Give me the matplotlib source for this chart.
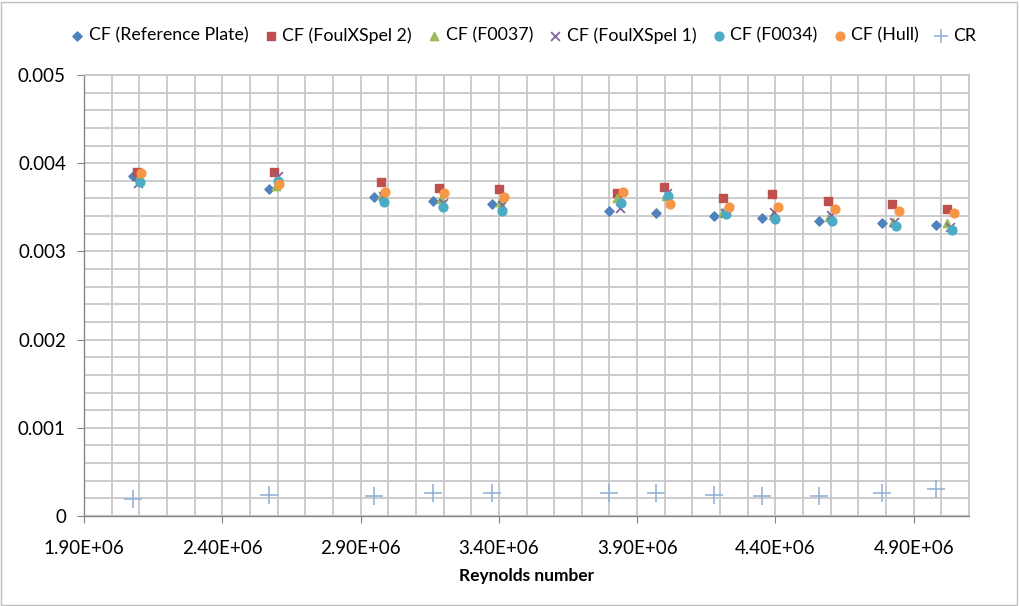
import numpy as np
import matplotlib.pyplot as plt
from matplotlib.ticker import MultipleLocator, FixedLocator, FuncFormatter
from matplotlib.patches import Rectangle

plt.rcParams['font.family'] = ['Lato', 'DejaVu Sans']

# Reynolds numbers for each series
re_plate = [2.077e6, 2.569e6, 2.948e6, 3.162e6, 3.375e6, 3.798e6, 3.968e6, 4.178e6, 4.351e6, 4.557e6, 4.785e6, 4.980e6]
re_foul2 = [2.092e6, 2.587e6, 2.974e6, 3.183e6, 3.400e6, 3.827e6, 3.997e6, 4.210e6, 4.387e6, 4.590e6, 4.821e6, 5.020e6]
re_f0037 = [2.100e6, 2.595e6, 2.978e6, 3.190e6, 3.405e6, 3.827e6, 4.004e6, 4.210e6, 4.390e6, 4.593e6, 4.825e6, 5.020e6]
re_foul1 = [2.097e6, 2.600e6, 2.980e6, 3.197e6, 3.410e6, 3.837e6, 4.008e6, 4.217e6, 4.393e6, 4.600e6, 4.830e6, 5.030e6]
re_f0034 = [2.104e6, 2.600e6, 2.985e6, 3.197e6, 3.410e6, 3.840e6, 4.011e6, 4.221e6, 4.400e6, 4.604e6, 4.835e6, 5.038e6]
re_hull = [2.108e6, 2.605e6, 2.988e6, 3.200e6, 3.418e6, 3.848e6, 4.018e6, 4.232e6, 4.409e6, 4.615e6, 4.846e6, 5.045e6]

# friction / residual coefficients
cf_plate = [0.003855, 0.00371, 0.00362, 0.00357, 0.00354, 0.00346, 0.00344, 0.00340, 0.00338, 0.00334, 0.00332, 0.00330]
cf_foul2 = [0.00390, 0.00390, 0.00379, 0.00372, 0.00371, 0.00366, 0.00373, 0.00360, 0.00365, 0.00357, 0.00354, 0.00348]
cf_f0037 = [0.00384, 0.00374, 0.00365, 0.00359, 0.00356, 0.00360, 0.00363, 0.00345, 0.00341, 0.00339, 0.00333, 0.00332]
cf_foul1 = [0.00378, 0.00385, 0.00363, 0.00355, 0.00353, 0.00349, 0.00366, 0.00344, 0.00345, 0.00341, 0.00333, 0.00328]
cf_f0034 = [0.00379, 0.00380, 0.00356, 0.00350, 0.00346, 0.00355, 0.00363, 0.00342, 0.00337, 0.00334, 0.00329, 0.00324]
cf_hull = [0.00389, 0.00376, 0.00367, 0.00366, 0.00362, 0.00367, 0.00354, 0.00350, 0.00350, 0.00348, 0.00346, 0.00344]
cr = [0.00019, 0.00024, 0.00023, 0.00026, 0.00026, 0.00026, 0.00026, 0.00024, 0.00023, 0.00023, 0.00026, 0.00031]

x_ticks = [1.9e6, 2.4e6, 2.9e6, 3.4e6, 3.9e6, 4.4e6, 4.9e6]

fig = plt.figure(figsize=(10.19, 6.06), dpi=100)
ax = fig.add_axes([0.0824, 0.1485, 0.8686, 0.7277])

ax.scatter(re_plate, cf_plate, marker='D', s=22, color='#4F81BD', label='CF (Reference Plate)', zorder=3)
ax.scatter(re_foul2, cf_foul2, marker='s', s=40, color='#C0504D', label='CF (FoulXSpel 2)', zorder=3)
ax.scatter(re_f0037, cf_f0037, marker='^', s=36, color='#9BBB59', label='CF (F0037)', zorder=3)
ax.scatter(re_foul1, cf_foul1, marker='x', s=40, color='#8064A2', linewidths=1.3, label='CF (FoulXSpel 1)', zorder=3)
ax.scatter(re_f0034, cf_f0034, marker='o', s=40, color='#4BACC6', label='CF (F0034)', zorder=3)
ax.scatter(re_hull, cf_hull, marker='o', s=40, color='#F79646', label='CF (Hull)', zorder=3)
ax.scatter(re_plate, cr, marker='+', s=150, color='#95B3D7', linewidths=1.2, label='CR', zorder=3)

ax.set_xlim(1.9e6, 5.1e6)
ax.set_ylim(0, 0.005)
ax.xaxis.set_major_locator(FixedLocator(x_ticks))
ax.xaxis.set_minor_locator(MultipleLocator(0.1e6))
ax.yaxis.set_major_locator(MultipleLocator(0.001))
ax.yaxis.set_minor_locator(MultipleLocator(0.0002))
ax.xaxis.set_major_formatter(FuncFormatter(lambda v, p: f'{v:.2E}'))
ax.yaxis.set_major_formatter(FuncFormatter(lambda v, p: '0' if v == 0 else f'{v:.3f}'))

ax.grid(True, which='both', color='#C8C8C8', linewidth=1.3, zorder=0)
ax.set_axisbelow(True)
for s in ['top', 'right']:
    ax.spines[s].set_color('#C8C8C8')
    ax.spines[s].set_linewidth(1.3)
for s in ['left', 'bottom']:
    ax.spines[s].set_color('#868686')
    ax.spines[s].set_linewidth(1.0)
ax.tick_params(which='major', length=5, color='#868686', labelsize=13.5, labelcolor='#000000')
ax.tick_params(which='minor', length=0)
ax.tick_params(axis='x', pad=12)
ax.tick_params(axis='y', pad=8)

ax.set_xlabel('Reynolds number', fontsize=12.5, fontweight='bold', labelpad=8)

leg = ax.legend(loc='center', bbox_to_anchor=(0.497, 1.09), ncol=7, frameon=False,
                fontsize=12.8, handlelength=0.6, handletextpad=0.35, columnspacing=0.95,
                borderaxespad=0)
leg.legend_handles[6].set_sizes([110])

fig.patches.append(Rectangle((0.001, 0.002), 0.997, 0.995, transform=fig.transFigure,
                             fill=False, edgecolor='#BFBFBF', linewidth=1))

fig.savefig('out.png', dpi=100)
